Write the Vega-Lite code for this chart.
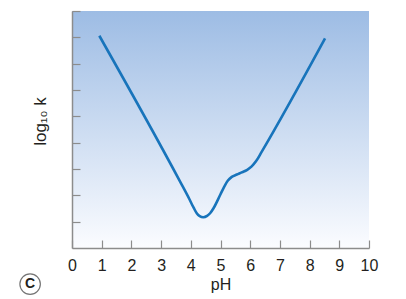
{
  "$schema": "https://vega.github.io/schema/vega-lite/v6.json",
  "width": 297,
  "height": 237,
  "autosize": "none",
  "padding": {"left": 72, "top": 11, "right": 37, "bottom": 51},
  "background": "white",
  "config": {
    "view": {
      "stroke": null,
      "fill": {"gradient": "linear", "x1": 0, "y1": 0, "x2": 0, "y2": 1,
        "stops": [{"offset": 0, "color": "#9dbce4"}, {"offset": 1, "color": "#fbfcff"}]}
    },
    "axis": {"labelFont": "Liberation Sans", "titleFont": "Liberation Sans", "labelColor": "#231f20", "titleColor": "#231f20", "domainColor": "#8c8c8c", "tickColor": "#8c8c8c", "domainWidth": 1.5, "tickWidth": 1.2, "grid": false}
  },
  "resolve": {"axis": {"x": "independent", "y": "independent"}},
  "layer": [
    {
      "data": {"values": [
        {"pH": 0.92, "logk": 8.06},
        {"pH": 3.64, "logk": 2.52},
        {"pH": 3.95, "logk": 1.86},
        {"pH": 4.1, "logk": 1.52},
        {"pH": 4.2, "logk": 1.32},
        {"pH": 4.3, "logk": 1.21},
        {"pH": 4.42, "logk": 1.17},
        {"pH": 4.55, "logk": 1.22},
        {"pH": 4.65, "logk": 1.32},
        {"pH": 4.76, "logk": 1.5},
        {"pH": 5.0, "logk": 2.04},
        {"pH": 5.15, "logk": 2.38},
        {"pH": 5.25, "logk": 2.56},
        {"pH": 5.38, "logk": 2.7},
        {"pH": 5.55, "logk": 2.79},
        {"pH": 5.71, "logk": 2.87},
        {"pH": 5.9, "logk": 2.97},
        {"pH": 6.05, "logk": 3.1},
        {"pH": 6.2, "logk": 3.3},
        {"pH": 6.39, "logk": 3.66},
        {"pH": 8.52, "logk": 7.96}
      ]},
      "mark": {"type": "line", "interpolate": "monotone", "color": "#1874bb", "strokeWidth": 2.6},
      "encoding": {
        "x": {"field": "pH", "type": "quantitative", "scale": {"domain": [0, 10], "nice": false},
          "axis": {"values": [0,1,2,3,4,5,6,7,8,9,10], "labelOverlap": false, "labelFlush": false, "tickSize": -8, "labelPadding": 17, "labelFontSize": 16, "title": "pH", "titleFontSize": 16, "titleFontWeight": "normal", "titlePadding": 3}},
        "y": {"field": "logk", "type": "quantitative", "scale": {"domain": [0, 9], "nice": false},
          "axis": {"values": [1,2,3,4,5,6,7,8,9], "tickSize": -8, "labels": false, "title": "log₁₀ k", "titleFontSize": 17, "titleFontWeight": "normal", "titlePadding": 22, "titleY": 110}}
      }
    },
    {
      "data": {"values": [{"px": -1.41, "py": -1.37, "label": "C"}]},
      "mark": {"type": "point", "shape": "circle", "size": 420, "filled": false, "stroke": "#3a3a3a", "strokeWidth": 1.2, "clip": false},
      "encoding": {"x": {"field": "px", "type": "quantitative", "axis": null}, "y": {"field": "py", "type": "quantitative", "axis": null}}
    },
    {
      "data": {"values": [{"px": -1.41, "py": -1.37, "label": "C"}]},
      "mark": {"type": "text", "font": "Liberation Sans", "fontSize": 14, "fontWeight": "bold", "color": "#231f20", "baseline": "middle", "align": "center", "clip": false},
      "encoding": {"x": {"field": "px", "type": "quantitative", "axis": null}, "y": {"field": "py", "type": "quantitative", "axis": null}, "text": {"field": "label"}}
    }
  ]
}
